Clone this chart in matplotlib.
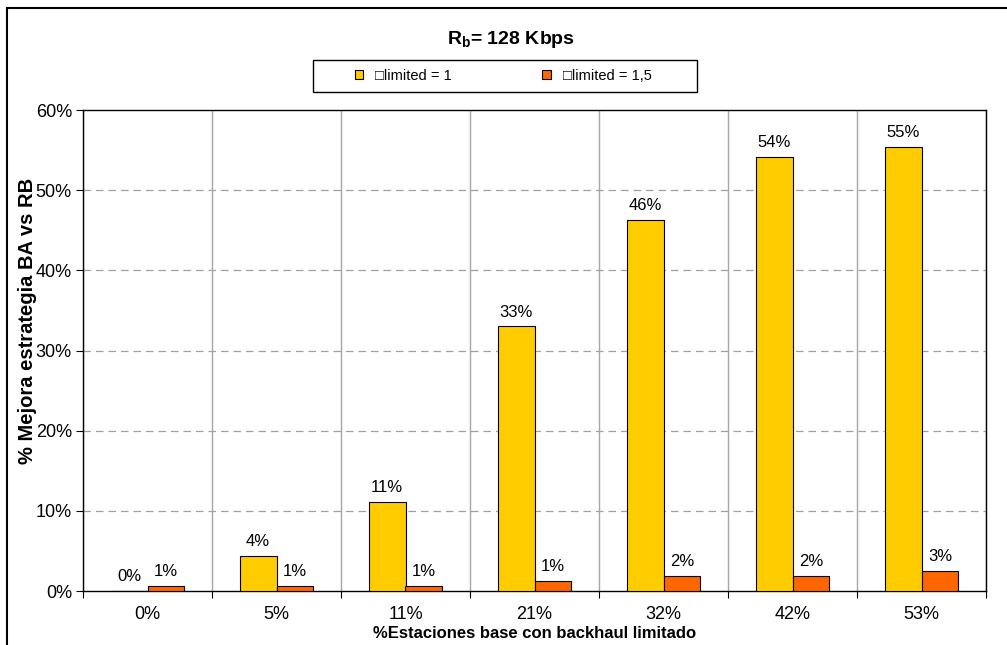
import matplotlib
matplotlib.use("Agg")
import matplotlib.pyplot as plt
import numpy as np
from matplotlib.patches import Rectangle, Patch

plt.rcParams['font.family'] = ['Liberation Sans', 'DejaVu Sans']
plt.rcParams['mathtext.fontset'] = 'custom'
plt.rcParams['mathtext.rm'] = 'Liberation Sans:bold'

# backhaul-limited share of base stations (x axis)
categories = ['0%', '5%', '11%', '21%', '32%', '42%', '53%']
# improvement of BA strategy over RB, in percent
limited_1 = [0.0, 4.4, 11.1, 33.0, 46.3, 54.1, 55.4]
limited_15 = [0.6, 0.6, 0.6, 1.3, 1.9, 1.9, 2.55]
series_names = ['\u25a1limited = 1', '\u25a1limited = 1,5']
y_ticks = [0, 10, 20, 30, 40, 50, 60]

yellow = '#FFCC00'
orange = '#FF6600'

fig = plt.figure(figsize=(10.07, 6.45), dpi=100)
ax = fig.add_axes([83/1007, 1 - 591/645, 903/1007, 481/645])

x = np.arange(len(categories))
w = 0.286
b1 = ax.bar(x - w/2, limited_1, w, color=yellow, edgecolor='black', linewidth=0.8, zorder=3)
b2 = ax.bar(x + w/2, limited_15, w, color=orange, edgecolor='black', linewidth=0.8, zorder=3)

# value labels on top of each bar
for bars, vals in ((b1, limited_1), (b2, limited_15)):
    for bar, v in zip(bars, vals):
        ax.annotate('%d%%' % int(v + 0.5), (bar.get_x() + bar.get_width()/2, v),
                    xytext=(0, 5), textcoords='offset points',
                    ha='center', va='bottom', fontsize=12)

ax.set_xlim(-0.5, len(categories) - 0.5)
ax.set_ylim(0, 60)

# category boundaries get the ticks and vertical grid, labels sit in the middle
ax.set_xticks(np.arange(len(categories) + 1) - 0.5)
ax.set_xticklabels([])
ax.set_xticks(x, minor=True)
ax.set_xticklabels(categories, minor=True, fontsize=13)
ax.tick_params(axis='x', which='major', length=5, direction='out')
ax.tick_params(axis='x', which='minor', length=0, pad=11)
ax.set_yticks(y_ticks)
ax.set_yticklabels(['%d%%' % t for t in y_ticks], fontsize=13)
ax.tick_params(axis='y', length=5, direction='out', pad=3)

ax.grid(axis='x', which='major', color='#A6A6A6', linewidth=1, zorder=0)
for t in y_ticks[1:-1]:
    ax.axhline(t, color='#A0A0A0', linestyle=(0, (6, 4)), linewidth=0.9, zorder=0)

for s in ax.spines.values():
    s.set_color('black')
    s.set_linewidth(1)

ax.set_ylabel('% Mejora estrategia BA vs RB', fontsize=14.5, fontweight='bold')
ax.yaxis.set_label_coords(-0.051, 0.561)
ax.set_xlabel('%Estaciones base con backhaul limitado', fontsize=12, fontweight='bold')
ax.xaxis.set_label_coords(0.5, -0.073)

fig.text(511/1007, 1 - 40/645, r'R$_\mathrm{b}$= 128 Kbps', ha='center', va='center',
         fontsize=14, fontweight='bold')

# legend box
fig.add_artist(Rectangle((313/1007, 1 - 92/645), 384/1007, 32/645, transform=fig.transFigure,
                         fill=False, edgecolor='black', linewidth=1))
handles = [Patch(facecolor=yellow, edgecolor='black', linewidth=0.8),
           Patch(facecolor=orange, edgecolor='black', linewidth=0.8)]
fig.legend(handles, series_names, loc='center', bbox_to_anchor=(503/1007, 1 - 76/645),
           ncol=2, frameon=False, fontsize=10.5, handlelength=0.6, handleheight=0.6,
           handletextpad=0.8, columnspacing=6.2)

# outer chart frame
fig.add_artist(Rectangle((7/1007, -0.2), 1.2, 1.2 - 8/645, transform=fig.transFigure,
                         fill=False, edgecolor='black', linewidth=1.5))

fig.savefig('out.png', dpi=100)
